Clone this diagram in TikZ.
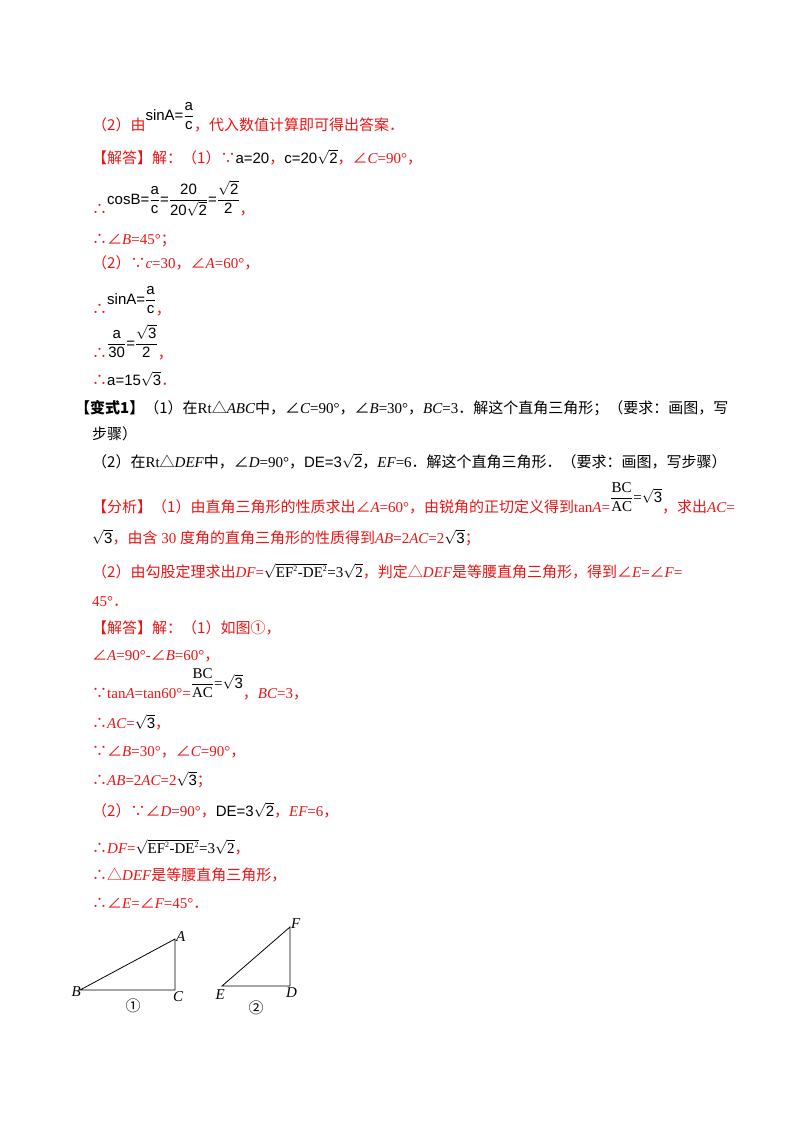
\documentclass[tikz,border=0pt]{standalone}
\usepackage{fontspec}
\setmainfont{Noto Sans CJK SC}
\setsansfont{Liberation Sans}
\newfontfamily\tm{Liberation Serif}
\newcommand\I[1]{{\tm\itshape #1}}
\newcommand\T[1]{{\tm #1}}
\newcommand\sfr[2]{$\displaystyle\frac{\mbox{\sffamily #1}}{\mbox{\sffamily #2}}$}
\newcommand\sq[1]{$\sqrt{\mbox{\sffamily #1}}$}
\definecolor{rd}{RGB}{235,20,20}
\begin{document}
\begin{tikzpicture}[x=1pt,y=-1pt,
  ln/.style={anchor=base west,inner sep=0pt,font=\fontsize{15}{17}\selectfont,text=rd},
  bk/.style={ln,text=black},
  lab/.style={font=\tm\itshape\fontsize{15}{17}\selectfont,inner sep=1pt},
  tri/.style={line width=0.8pt}]
\useasboundingbox (0,0) rectangle (800,1132);
\node[ln] (l1) at (92,130) {（2）由\raisebox{10pt}{\color{black}\sffamily sinA=\sfr{a}{c}}，代入数值计算即可得出答案．};
\node[ln] (l2) at (92,163) {【解答】解：（1）∵{\color{black}\sffamily a=20}，{\color{black}\sffamily c=20\sq{2}}，∠\I{C}\T{=90°}，};
\node[ln] (l3) at (92,214) {∴\raisebox{10pt}{\color{black}\sffamily cosB=\sfr{a}{c}=\sfr{20}{20$\sqrt{\mbox{2}}$}=\sfr{$\sqrt{\mbox{2}}$}{2}}，};
\node[ln] (l4) at (92,244) {∴∠\I{B}\T{=45°}；};
\node[ln] (l5) at (92,268) {（2）∵\I{c}\T{=30}，∠\I{A}\T{=60°}，};
\node[ln] (l6) at (92,314) {∴\raisebox{10pt}{\color{black}\sffamily sinA=\sfr{a}{c}}，};
\node[ln] (l7) at (92,358) {∴\raisebox{10pt}{\color{black}\sffamily \sfr{a}{30}=\sfr{$\sqrt{\mbox{3}}$}{2}}，};
\node[ln] (l8) at (92,385) {∴{\color{black}\sffamily a=15\sq{3}}．};
\node[bk] (v1) at (75,413) {\textbf{【变式1】}（1）在\T{Rt}△\I{ABC}中，∠\I{C}\T{=90°}，∠\I{B}\T{=30°}，\I{BC}\T{=3}．解这个直角三角形；（要求：画图，写};
\node[bk] (v2) at (92,439) {步骤）};
\node[bk] (v3) at (92,467) {（2）在\T{Rt}△\I{DEF}中，∠\I{D}\T{=90°}，{\sffamily DE=3\sq{2}}，\I{EF}\T{=6}．解这个直角三角形．（要求：画图，写步骤）};
\node[ln] (f1) at (92,512) {【分析】（1）由直角三角形的性质求出∠\I{A}\T{=60°}，由锐角的正切定义得到\T{tan}\I{A}\T{=}\raisebox{10pt}{\color{black}\tm $\displaystyle\frac{\mbox{BC}}{\mbox{AC}}$=\sq{3}}，求出\I{AC}\T{=}};
\node[ln] (f2) at (92,543) {{\color{black}\sq{3}}，由含\T{ 30 }度角的直角三角形的性质得到\I{AB}\T{=2}\I{AC}\T{=2}{\color{black}\sq{3}}；};
\node[ln] (f3) at (92,577) {（2）由勾股定理求出\I{DF}\T{=}{\color{black}\tm$\sqrt{\mbox{EF}^{\mbox{\footnotesize 2}}\mbox{-DE}^{\mbox{\footnotesize 2}}}$=3$\sqrt{\mbox{2}}$}，判定△\I{DEF}是等腰直角三角形，得到∠\I{E}\T{=}∠\I{F}\T{=}};
\node[ln] (f4) at (92,606) {\T{45°}．};
\node[ln] (j1) at (92,633) {【解答】解：（1）如图①，};
\node[ln] (j2) at (92,660) {∠\I{A}\T{=90°-}∠\I{B}\T{=60°}，};
\node[ln] (j3) at (92,698) {∵\T{tan}\I{A}\T{=tan60°=}\raisebox{10pt}{\color{black}\tm $\displaystyle\frac{\mbox{BC}}{\mbox{AC}}$=\sq{3}}，\I{BC}\T{=3}，};
\node[ln] (j4) at (92,728) {∴\I{AC}\T{=}{\color{black}\sq{3}}，};
\node[ln] (j5) at (92,756) {∵∠\I{B}\T{=30°}，∠\I{C}\T{=90°}，};
\node[ln] (j6) at (92,785) {∴\I{AB}\T{=2}\I{AC}\T{=2}{\color{black}\sq{3}}；};
\node[ln] (j7) at (92,816) {（2）∵∠\I{D}\T{=90°}，{\color{black}\sffamily DE=3\sq{2}}，\I{EF}\T{=6}，};
\node[ln] (j8) at (92,853) {∴\I{DF}\T{=}{\color{black}\tm$\sqrt{\mbox{EF}^{\mbox{\footnotesize 2}}\mbox{-DE}^{\mbox{\footnotesize 2}}}$=3$\sqrt{\mbox{2}}$}，};
\node[ln] (j9) at (92,880) {∴△\I{DEF}是等腰直角三角形，};
\node[ln] (j10) at (92,908) {∴∠\I{E}\T{=}∠\I{F}\T{=45°}．};
% triangles
\coordinate (B) at (80,990); \coordinate (C) at (175,990); \coordinate (A) at (175,939);
\coordinate (E) at (222,986); \coordinate (D) at (290,986); \coordinate (F) at (290,927);
\draw[tri] (B) -- (C) -- (A) -- cycle;
\draw[tri] (E) -- (D) -- (F) -- cycle;
\node[lab,anchor=west] (la) at (175,937) {A};
\node[lab,anchor=east] (lb) at (82,992) {B};
\node[lab,anchor=north west] (lc) at (172,990) {C};
\node[lab,anchor=north east] (le) at (226,988) {E};
\node[lab,anchor=north west] (ld) at (285,986) {D};
\node[lab,anchor=west] (lf) at (290,924) {F};
\node[font=\fontsize{15}{17}\selectfont] (c1) at (133,1006) {①};
\node[font=\fontsize{15}{17}\selectfont] (c2) at (256,1008) {②};
\end{tikzpicture}
\end{document}
